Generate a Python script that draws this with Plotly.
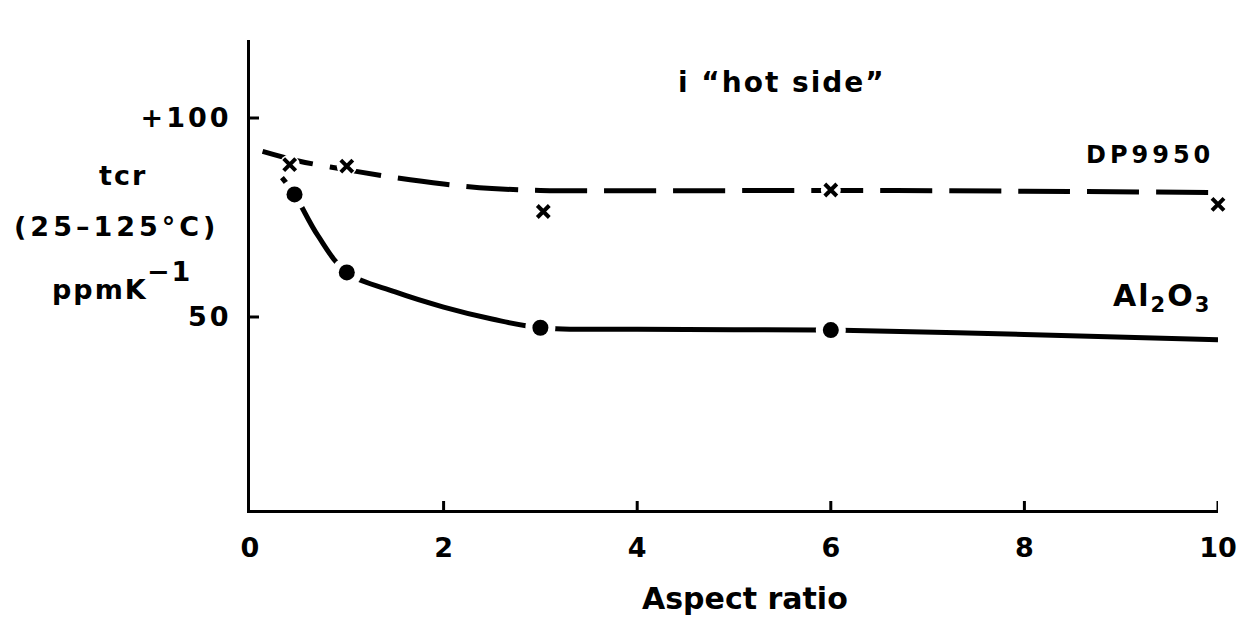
import plotly.graph_objects as go

# ---- data ----
dp_x = [0.41, 1.0, 3.03, 6.0, 10.0]
dp_y = [88.3, 87.9, 76.5, 81.9, 78.3]
dp_curve_x = [0.13, 0.5, 1.0, 1.5, 2.0, 2.5, 3.0, 4.0, 6.0, 8.0, 9.93]
dp_curve_y = [91.6, 89.2, 87.0, 85.0, 83.4, 82.3, 81.8, 81.7, 81.8, 81.6, 81.3]

al_x = [0.46, 1.0, 3.0, 6.0]
al_y = [80.8, 61.2, 47.3, 46.7]
al_curve_x = [0.33, 0.46, 0.7, 1.0, 1.5, 2.0, 2.5, 3.0, 4.0, 5.0, 6.0, 8.0, 10.0]
al_curve_y = [85.0, 80.8, 70.5, 61.2, 56.3, 52.5, 49.5, 47.3, 46.9, 46.8, 46.7, 45.6, 44.3]

x_ticks = [2, 4, 6, 8, 10]
x_labels = ["0", "2", "4", "6", "8", "10"]
x_label_vals = [0, 2, 4, 6, 8, 10]
y_ticks = [50, 100]
y_labels = ["50", "+100"]

FONT = "DejaVu Sans"
W, H = 1237, 642
L, R, T, B = 250, 1218, 40, 510


def sp(text, ls):
    return f'<span style="letter-spacing:{ls}px">{text}</span>'


def px(xp):
    return (xp - L) / (R - L)


def py(yp):
    return (B - yp) / (B - T)


fig = go.Figure()

# DP9950 dashed curve
fig.add_trace(go.Scatter(x=dp_curve_x, y=dp_curve_y, mode="lines", line_shape="spline",
                         line=dict(color="black", width=5, dash="52px,17px"),
                         hoverinfo="skip", showlegend=False))
# Al2O3 solid curve
fig.add_trace(go.Scatter(x=al_curve_x, y=al_curve_y, mode="lines", line_shape="spline",
                         line=dict(color="black", width=5),
                         hoverinfo="skip", showlegend=False))
# white halos (gaps in line around markers)
fig.add_trace(go.Scatter(x=al_x, y=al_y, mode="markers", cliponaxis=False,
                         marker=dict(symbol="circle", size=30, color="white"),
                         hoverinfo="skip", showlegend=False))
fig.add_trace(go.Scatter(x=dp_x, y=dp_y, mode="markers", cliponaxis=False,
                         marker=dict(symbol="circle", size=20, color="white"),
                         hoverinfo="skip", showlegend=False))
# markers
fig.add_trace(go.Scatter(x=al_x, y=al_y, mode="markers", name="Al2O3", cliponaxis=False,
                         marker=dict(symbol="circle", size=16, color="black"),
                         showlegend=False))
fig.add_trace(go.Scatter(x=dp_x, y=dp_y, mode="markers", name="DP9950", cliponaxis=False,
                         marker=dict(symbol="x-thin", size=12,
                                     line=dict(color="black", width=4)),
                         showlegend=False))

fig.update_layout(
    width=W, height=H,
    margin=dict(l=L, r=W - R, t=T, b=H - B, autoexpand=False),
    paper_bgcolor="white", plot_bgcolor="white",
    font=dict(family=FONT, color="black", size=27, weight="bold"),
)

tickfont = dict(family=FONT, size=27, color="black", weight="bold")
fig.update_xaxes(range=[0, 10], showgrid=False, zeroline=False, automargin=False,
                 showline=True, linecolor="black", linewidth=3,
                 tickmode="array", tickvals=x_label_vals,
                 ticktext=x_labels, ticklabeloverflow="allow",
                 ticks="", tickfont=tickfont, ticklabelstandoff=12)
fig.update_yaxes(range=[1.5, 119.6], showgrid=False, zeroline=False, automargin=False,
                 showline=True, linecolor="black", linewidth=3,
                 tickmode="array", tickvals=y_ticks,
                 ticktext=[sp(t, 3) for t in y_labels],
                 ticks="", tickfont=tickfont, ticklabelstandoff=10)

# inside tick marks
shapes = []
for v in x_ticks:
    shapes.append(dict(type="line", xref="x", yref="paper", x0=v, x1=v,
                       y0=0, y1=9 / (B - T), line=dict(color="black", width=3)))
for v in y_ticks:
    shapes.append(dict(type="line", xref="paper", yref="y", x0=0, x1=9 / (R - L),
                       y0=v, y1=v, line=dict(color="black", width=3)))
fig.update_layout(shapes=shapes)

ann = []


def add(text, xp, yp, size=27, xanchor="center", ls=0):
    t = sp(text, ls) if ls else text
    ann.append(dict(text=t, xref="paper", yref="paper", x=px(xp), y=py(yp),
                    xanchor=xanchor, yanchor="middle", showarrow=False,
                    font=dict(family=FONT, size=size, color="black", weight="bold")))


add("tcr", 123, 175, ls=2)
add("(25\u2013125\u00b0C)", 116, 226, ls=4)
add("ppmK", 100, 289, ls=2)
add("\u22121", 169, 271, ls=2)
add("i \u201chot side\u201d", 782, 83, size=28, ls=2)
add("DP9950", 1216, 155, size=24, xanchor="right", ls=4)
add("Al<sub>2</sub>O<sub>3</sub>", 1213, 297, size=30, xanchor="right", ls=2)
add("Aspect ratio", 745, 598, size=30)
fig.update_layout(annotations=ann)

fig.write_html("out.html")
